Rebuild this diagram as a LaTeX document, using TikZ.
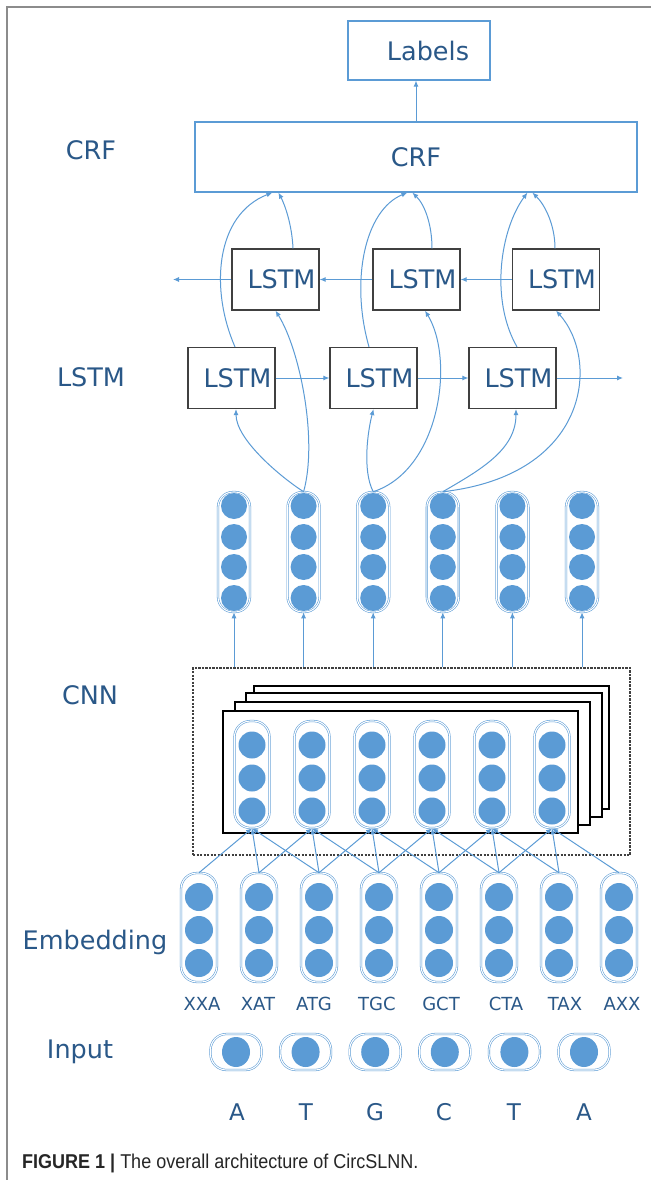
\documentclass[tikz,border=0pt]{standalone}
\usepackage{fontspec}
\setmainfont{DejaVu Sans}
\newfontfamily\capfont{Liberation Sans}
\usetikzlibrary{arrows.meta}
\definecolor{lb}{RGB}{91,155,213}
\definecolor{tb}{RGB}{42,88,136}
\definecolor{fr}{RGB}{140,140,140}
\begin{document}
\begin{tikzpicture}[x=1pt,y=-1pt,
  conn/.style={draw=lb, line width=1pt, -{Latex[length=6pt,width=5pt]}},
  big/.style={font=\fontsize{25.5}{30}\selectfont, text=tb},
  lstmbox/.style={draw=black!75, line width=1.2pt, minimum width=87pt, minimum height=61pt, inner sep=0pt, big},
  bluebox/.style={draw=lb, line width=1.2pt, inner sep=0pt, big},
  capsule/.style={draw=lb, line width=0.55pt, double=white, double distance=1.1pt, inner sep=0pt},
  vcap/.style={capsule, minimum width=32pt, minimum height=120pt, rounded corners=15pt},
  ccap/.style={capsule, minimum width=35pt, minimum height=107pt, rounded corners=16pt},
  ecap/.style={capsule, minimum width=36pt, minimum height=109pt, rounded corners=16pt},
  icap/.style={capsule, minimum width=51pt, minimum height=36pt, rounded corners=16pt},
  stack/.style={draw=black, line width=1.1pt, fill=white},
  small/.style={font=\fontsize{18}{22}\selectfont, text=tb},
  letter/.style={font=\fontsize{23}{28}\selectfont, text=tb}
]
\useasboundingbox (0,0) rectangle (651,1180);
\fill[white] (0,0) rectangle (651,1180);
% frame
\draw[fr, line width=1.8pt] (7,1180) -- (7,7) -- (651,7);

% top boxes
\node[bluebox, minimum width=142pt, minimum height=59pt] (labels) at (419,50.5) {\hspace{18pt}Labels};
\node[bluebox, minimum width=442pt, minimum height=70pt] (crf) at (416,157) {CRF};
\draw[conn] (crf.north) -- (crf.north |- labels.south);

% left labels
\node[big] (lcrf) at (91,150) {CRF};
\node[big] (llstm) at (91,377) {LSTM};
\node[big] (lcnn) at (90,695) {CNN};
\node[big] (lemb) at (95,942) {Embedding};
\node[big] (linp) at (80,1052) {Input};

% LSTM boxes
\node[lstmbox] (b1) at (275.5,279.5) {\hspace{12pt}LSTM};
\node[lstmbox] (b2) at (416.5,279.5) {\hspace{12pt}LSTM};
\node[lstmbox] (b3) at (556,279.5) {\hspace{12pt}LSTM};
\node[lstmbox] (f1) at (231.5,378) {\hspace{12pt}LSTM};
\node[lstmbox] (f2) at (373.5,378) {\hspace{12pt}LSTM};
\node[lstmbox] (f3) at (512.5,378) {\hspace{12pt}LSTM};
\coordinate (bout) at (173,279.5);
\coordinate (fout) at (623,378);
\draw[conn] (b3.west) -- (b2.east);
\draw[conn] (b2.west) -- (b1.east);
\draw[conn] (b1.west) -- (bout);
\draw[conn] (f1.east) -- (f2.west);
\draw[conn] (f2.east) -- (f3.west);
\draw[conn] (f3.east) -- (fout);

% LSTM input vectors
\foreach \i in {1,...,6}{
  \pgfmathsetmacro\xx{234+69.6*(\i-1)}
  \node[vcap] (v\i) at (\xx,552) {};
  \foreach \yy in {506,537,567,598}{\fill[lb] (\xx,\yy) circle (13pt);}
}

% curves to LSTM
\draw[conn] (v2.north) .. controls (282,478) and (236,440) .. ([xshift=4.5pt]f1.south);
\draw[conn] (v2.north) .. controls (318,440) and (300,350) .. (b1.south);
\draw[conn] (v3.north) .. controls (362,470) and (368,430) .. (f2.south);
\draw[conn] (v3.north) .. controls (440,470) and (455,360) .. ([xshift=8.5pt]b2.south);
\draw[conn] (v4.north) .. controls (480,470) and (516,450) .. ([xshift=3.5pt]f3.south);
\draw[conn] (v4.north) .. controls (590,475) and (600,360) .. (b3.south);

% curves to CRF
\draw[conn] ([xshift=3.5pt]f1.north) .. controls (210,290) and (215,215) .. ([xshift=78pt]crf.south west);
\draw[conn] ([xshift=17.5pt]b1.north) .. controls (292,225) and (285,205) .. ([xshift=84pt]crf.south west);
\draw[conn] ([xshift=-4.5pt]f2.north) .. controls (350,280) and (365,210) .. ([xshift=213pt]crf.south west);
\draw[conn] ([xshift=15.5pt]b2.north) .. controls (432,225) and (425,205) .. ([xshift=218pt]crf.south west);
\draw[conn] ([xshift=4.5pt]f3.north) .. controls (490,300) and (500,230) .. ([xshift=333pt]crf.south west);
\draw[conn] ([xshift=-1pt]b3.north) .. controls (555,225) and (545,205) .. ([xshift=338pt]crf.south west);

% CNN block
\node[draw=black!75, line width=1.1pt, dash pattern=on 2.2pt off 1.3pt, minimum width=437pt, minimum height=187pt, inner sep=0pt] (cnnbox) at (411.5,761.5) {};
\foreach \i in {1,...,6}{
  \draw[conn] (v\i.south |- cnnbox.north) -- (v\i.south);
}
\draw[stack] (254,686) rectangle (609,809);
\draw[stack] (246,693) rectangle (602,817);
\draw[stack] (235,702) rectangle (590,825);
\node[stack, minimum width=355pt, minimum height=122pt, inner sep=0pt] (front) at (400.5,772) {};
\foreach \i in {1,...,6}{
  \pgfmathsetmacro\xx{252+60*(\i-1)}
  \node[ccap] (c\i) at (\xx,774.5) {};
  \foreach \yy in {745,778,811}{\fill[lb] (\xx,\yy) circle (13.5pt);}
}

% Embedding
\foreach \j in {1,...,8}{
  \pgfmathsetmacro\xx{199+60*(\j-1)}
  \node[ecap] (e\j) at (\xx,927.5) {};
  \foreach \yy in {897,930,963}{\fill[lb] (\xx,\yy) circle (14pt);}
}
\foreach \i in {1,...,6}{
  \pgfmathtruncatemacro\ja{\i}
  \pgfmathtruncatemacro\jb{\i+1}
  \pgfmathtruncatemacro\jc{\i+2}
  \draw[conn] (e\ja.north) -- (c\i.south);
  \draw[conn] (e\jb.north) -- (c\i.south);
  \draw[conn] (e\jc.north) -- (c\i.south);
}

% k-mer labels
\node[small] (k1) at (202,1004) {XXA};
\node[small] (k2) at (258,1004) {XAT};
\node[small] (k3) at (314,1004) {ATG};
\node[small] (k4) at (377,1004) {TGC};
\node[small] (k5) at (441,1004) {GCT};
\node[small] (k6) at (506,1004) {CTA};
\node[small] (k7) at (565,1004) {TAX};
\node[small] (k8) at (622,1004) {AXX};

% Input
\foreach \i in {1,...,6}{
  \pgfmathsetmacro\xx{236+69.6*(\i-1)}
  \node[icap] (in\i) at (\xx,1052) {};
  \fill[lb] (\xx,1052) ellipse (14pt and 15pt);
}
\node[letter] (a1) at (237,1112) {A};
\node[letter] (a2) at (306,1112) {T};
\node[letter] (a3) at (375,1112) {G};
\node[letter] (a4) at (444,1112) {C};
\node[letter] (a5) at (514,1112) {T};
\node[letter] (a6) at (584,1112) {A};

% caption
\node[anchor=west, inner sep=0pt, text=black!85, font=\capfont\fontsize{20}{24}\selectfont] (caption) at (22,1163)
  {\scalebox{0.9}[1]{\textbf{FIGURE 1} \textbf{|} The overall architecture of CircSLNN.}};
\end{tikzpicture}
\end{document}
